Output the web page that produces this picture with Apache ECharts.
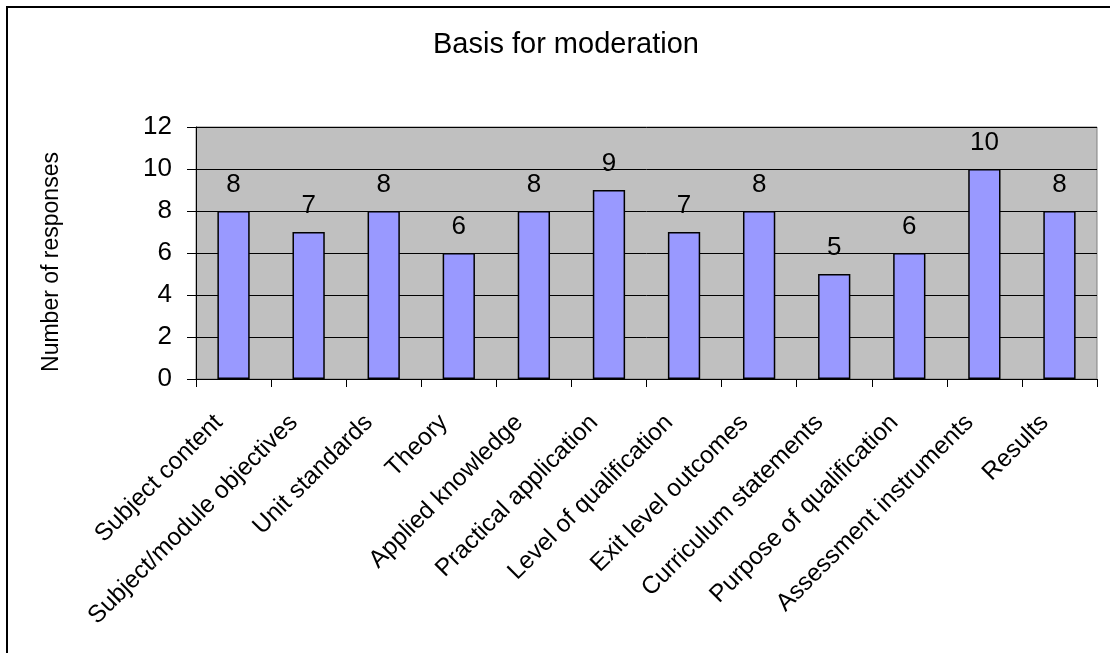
<!DOCTYPE html>
<html>
<head>
<meta charset="utf-8">
<script src="https://cdn.jsdelivr.net/npm/echarts@6/dist/echarts.min.js"></script>
<style>
html,body{margin:0;padding:0;background:#fff;}
#c{width:1110px;height:653px;}
</style>
</head>
<body>
<div id="c"></div>
<script>
const categories = ["Subject content","Subject/module objectives","Unit standards","Theory","Applied knowledge","Practical application","Level of qualification","Exit level outcomes","Curriculum statements","Purpose of qualification","Assessment instruments","Results"];
const responses = [8,7,8,6,8,9,7,8,5,6,10,8];
const yTicks = {min:0, max:12, interval:2};

const chart = echarts.init(document.getElementById('c'), null, {renderer:'canvas'});
const font = 'Liberation Sans, Arial, sans-serif';
chart.setOption({
  animation:false,
  backgroundColor:'#ffffff',
  title:{
    text:'Basis for moderation',
    left:428, top:25,
    textStyle:{fontFamily:font, fontSize:29, fontWeight:'normal', color:'#000'}
  },
  graphic:[{
    type:'rect', shape:{x:7, y:7, width:1200, height:800},
    style:{fill:'none', stroke:'#000', lineWidth:2}, silent:true
  }],
  grid:{
    left:196, right:13, top:127, bottom:274,
    show:true, backgroundColor:'#C0C0C0', borderColor:'#808080', borderWidth:1
  },
  xAxis:{
    type:'category', data:categories, boundaryGap:true,
    axisLine:{lineStyle:{color:'#000', width:1}},
    axisTick:{show:true, length:8, lineStyle:{color:'#000'}},
    axisLabel:{rotate:45, margin:25, padding:[0,21,0,0], fontFamily:font, fontSize:24.5, color:'#000', interval:0}
  },
  yAxis:{
    type:'value', min:yTicks.min, max:yTicks.max, interval:yTicks.interval,
    name:'Number of responses', nameLocation:'middle', nameGap:133, nameRotate:90,
    nameTextStyle:{fontFamily:font, fontSize:23, color:'#000', padding:[0,18,0,0]},
    axisLine:{show:true, lineStyle:{color:'#000', width:1}},
    axisTick:{show:true, length:9, lineStyle:{color:'#000'}},
    splitLine:{lineStyle:{color:'#000', width:1}},
    axisLabel:{margin:24, fontFamily:font, fontSize:26, color:'#000'}
  },
  series:[{
    type:'bar', data:responses, barWidth:'43%',
    itemStyle:{color:'#9999FF', borderColor:'#000', borderWidth:1.5},
    label:{show:true, position:'top', distance:13, fontFamily:font, fontSize:26, color:'#000'}
  }]
});
</script>
</body>
</html>
